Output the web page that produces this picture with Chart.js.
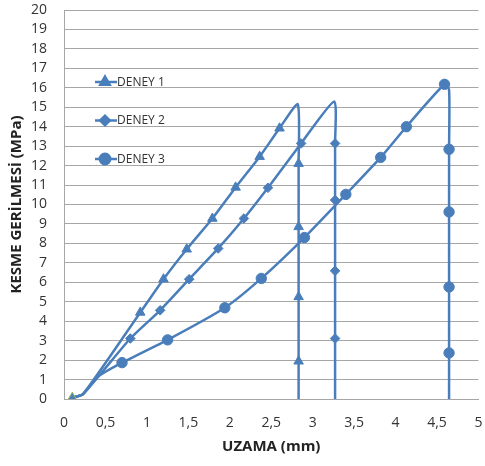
<!DOCTYPE html>
<html>
<head>
<meta charset="utf-8">
<script src="https://cdn.jsdelivr.net/npm/chart.js@4"></script>
<style>
  body { margin: 0; background: #fff; }
</style>
</head>
<body>
<canvas id="shearChart" width="485" height="466"></canvas>
<script>
// Data (x = UZAMA mm, y = KESME GERILMESI MPa)
const deney1X = [0.10, 0.23, 0.92, 1.20, 1.48, 1.79, 2.07, 2.36, 2.60, 2.82, 2.83, 2.83, 2.83, 2.83, 2.83];
const deney1Y = [0.07, 0.25, 4.45, 6.16, 7.70, 9.28, 10.88, 12.46, 13.92, 15.15, 12.1, 8.85, 5.25, 1.94, 0];
const deney2X = [0.10, 0.23, 0.80, 1.16, 1.51, 1.86, 2.17, 2.46, 2.86, 3.26, 3.27, 3.27, 3.27, 3.27, 3.27];
const deney2Y = [0.07, 0.25, 3.11, 4.56, 6.16, 7.74, 9.28, 10.86, 13.14, 15.3, 13.14, 10.23, 6.59, 3.11, 0];
const deney3X = [0.10, 0.23, 0.40, 0.70, 1.25, 1.94, 2.38, 2.90, 3.40, 3.82, 4.13, 4.59, 4.645, 4.645, 4.645, 4.645, 4.645, 4.645];
const deney3Y = [0.07, 0.25, 1.12, 1.87, 3.04, 4.69, 6.2, 8.3, 10.52, 12.42, 14.0, 16.18, 15.9, 12.84, 9.62, 5.76, 2.37, 0];

// which points carry a marker in the original
const marked1 = [1, 0, 1, 1, 1, 1, 1, 1, 1, 0, 1, 1, 1, 1, 0];
const marked2 = [0, 0, 1, 1, 1, 1, 1, 1, 1, 0, 1, 1, 1, 1, 0];
const marked3 = [0, 0, 0, 1, 1, 1, 1, 1, 1, 1, 1, 1, 0, 1, 1, 1, 1, 0];

const seriesNames = ['DENEY 1', 'DENEY 2', 'DENEY 3'];
const xTitle = 'UZAMA (mm)';
const yTitle = 'KESME GERİLMESİ (MPa)';

const blue = '#4a7ebb';
const font = "'Open Sans', sans-serif";

function toPoints(xs, ys) {
    return xs.map((x, i) => ({ x: x, y: ys[i] }));
}

function makeSet(label, xs, ys, marks, style, size) {
    return {
        label: label,
        data: toPoints(xs, ys),
        showLine: true,
        borderColor: blue,
        backgroundColor: blue,
        borderWidth: 2.5,
        tension: 0.2,
        pointStyle: style,
        pointRadius: marks.map(m => m ? size : 0),
        pointBorderWidth: 1,
        pointBackgroundColor: blue,
        pointBorderColor: blue
    };
}

let set1 = makeSet(seriesNames[0], deney1X, deney1Y, marked1, 'triangle', 5.5);
set1.pointBorderColor = marked1.map((m, i) => i === 0 ? '#9bbb59' : blue);
let set2 = makeSet(seriesNames[1], deney2X, deney2Y, marked2, 'rectRot', 4.8);
let set3 = makeSet(seriesNames[2], deney3X, deney3Y, marked3, 'circle', 5.2);

// legend sits inside the plot on the left, drawn by hand
const insideLegend = {
    id: 'insideLegend',
    afterDraw(chart) {
        const c = chart.ctx;
        const area = chart.chartArea;
        const styles = ['triangle', 'rectRot', 'circle'];
        const sizes = [5.5, 4.8, 5.2];
        c.save();
        for (let i = 0; i < 3; i++) {
            let y = area.top + 72 + i * 38.5;
            let x0 = area.left + 31;
            c.strokeStyle = blue;
            c.lineWidth = 2.5;
            c.beginPath();
            c.moveTo(x0, y);
            c.lineTo(x0 + 22, y);
            c.stroke();
            c.fillStyle = blue;
            Chart.helpers.drawPoint(c, { pointStyle: styles[i], radius: sizes[i], borderWidth: 1 }, x0 + 10, y);
            c.fill();
            c.fillStyle = '#333';
            c.font = "12px " + font;
            c.textBaseline = 'middle';
            c.fillText(seriesNames[i], x0 + 22, y + 0.5);
        }
        c.restore();
    }
};

let ctx = document.getElementById('shearChart').getContext('2d');

let shearChart = new Chart(ctx, {
    type: 'scatter',
    data: { datasets: [set1, set2, set3] },
    options: {
        responsive: false,
        animation: false,
        layout: { padding: { top: 10, right: 4, left: 4, bottom: 4 } },
        plugins: {
            legend: { display: false },
            tooltip: { enabled: false }
        },
        scales: {
            x: {
                type: 'linear',
                min: 0,
                max: 5,
                afterFit: s => { s.height = 63; s.paddingLeft = 0; s.paddingRight = 0; },
                grid: { display: false, drawTicks: false },
                border: { display: true, color: '#a6a6a6', width: 1 },
                ticks: {
                    stepSize: 0.5,
                    autoSkip: false,
                    padding: 16,
                    color: '#333',
                    font: { family: font, size: 14 },
                    callback: v => String(v).replace('.', ',')
                },
                title: {
                    display: true,
                    text: xTitle,
                    color: '#222',
                    padding: { top: 0, bottom: 6 },
                    font: { family: font, size: 15, weight: 'bold' }
                }
            },
            y: {
                min: 0,
                max: 20,
                afterFit: s => { s.width = 60; s.paddingTop = 0; s.paddingBottom = 0; },
                grid: { color: '#a6a6a6', lineWidth: 1, drawTicks: false },
                border: { display: true, color: '#a6a6a6', width: 1 },
                ticks: {
                    stepSize: 1,
                    autoSkip: false,
                    padding: 17,
                    color: '#333',
                    font: { family: font, size: 14 }
                },
                title: {
                    display: true,
                    text: yTitle,
                    color: '#222',
                    padding: { top: 4, bottom: 0 },
                    font: { family: font, size: 15, weight: 'bold' }
                }
            }
        }
    },
    plugins: [insideLegend]
});
</script>
</body>
</html>
